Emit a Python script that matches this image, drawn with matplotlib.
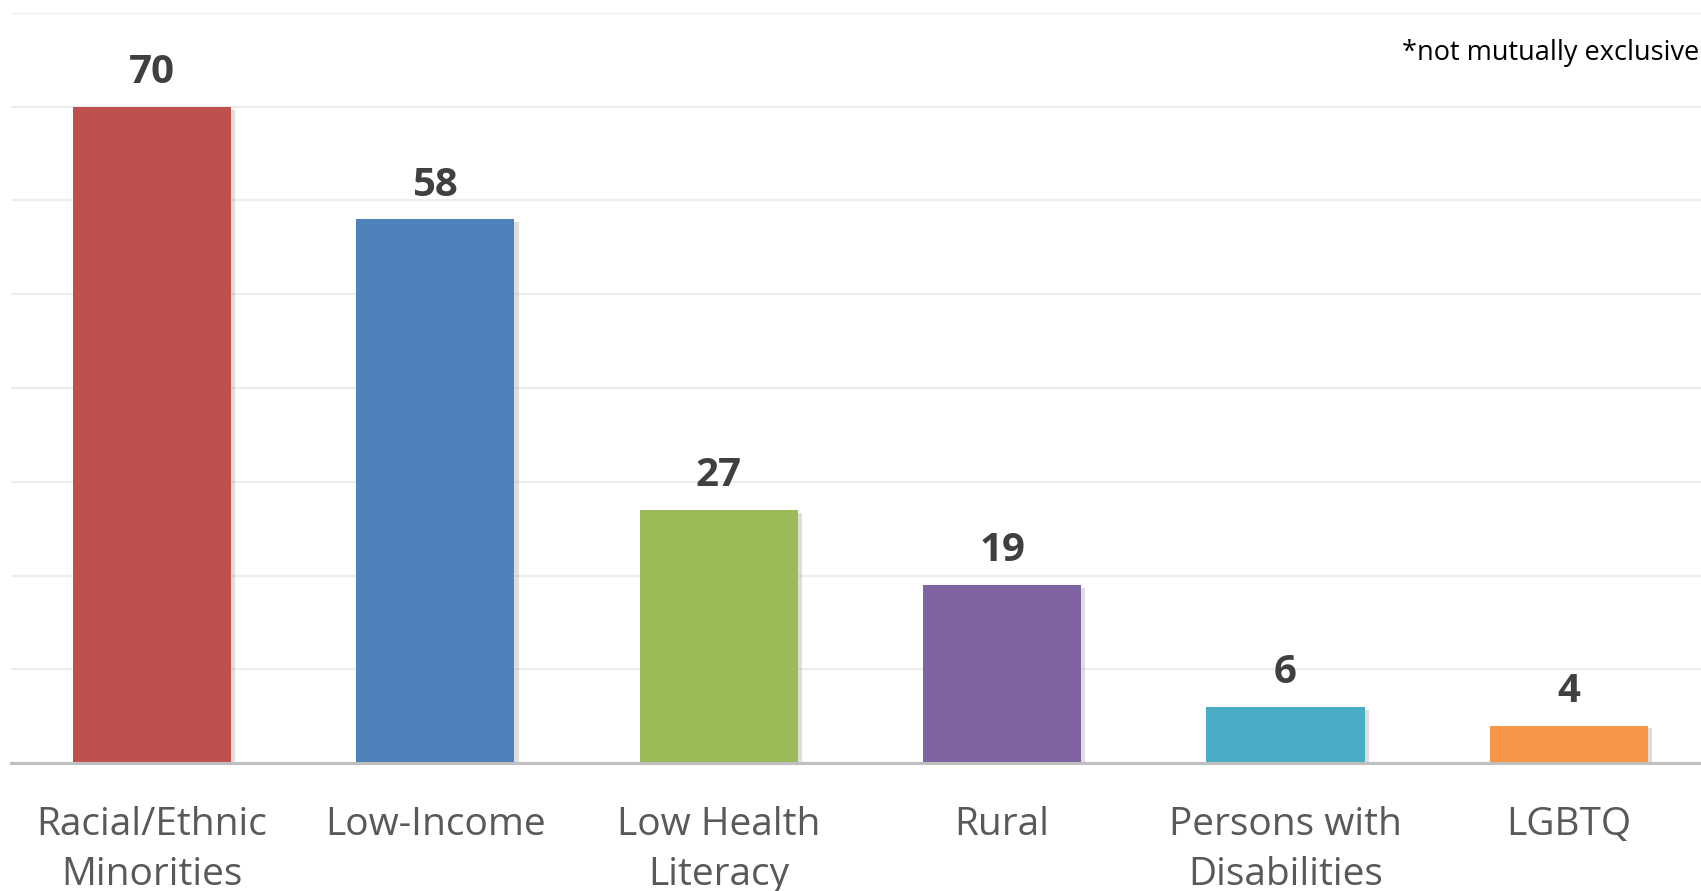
import matplotlib.pyplot as plt
import matplotlib.patheffects as pe

# data
categories = ['Racial/Ethnic\nMinorities', 'Low-Income', 'Low Health\nLiteracy',
              'Rural', 'Persons with\nDisabilities', 'LGBTQ']
counts = [70, 58, 27, 19, 6, 4]
colors = ['#C0504D', '#4F81BD', '#9BBB59', '#8064A2', '#4BACC6', '#F79646']
note = '*not mutually exclusive'

plt.rcParams['font.family'] = ['Open Sans', 'DejaVu Sans']

fig = plt.figure(figsize=(17.01, 8.91), dpi=100)
ax = fig.add_axes([11 / 1701, 1 - 763 / 891, 1690 / 1701, 750 / 891])

x = list(range(len(categories)))
bars = ax.bar(x, counts, width=0.558, color=colors, zorder=3)
for b in bars:
    b.set_path_effects([pe.SimplePatchShadow(offset=(3, -2), shadow_rgbFace='#8a8a8a', alpha=0.28),
                        pe.Normal()])

for xi, v in zip(x, counts):
    ax.annotate(str(v), (xi, v), xytext=(0, 17), textcoords='offset points',
                ha='center', va='baseline', fontsize=29, fontweight='bold', color='#404040')

ax.set_xlim(-0.4975, 5.466)
ax.set_ylim(0, 80)
ax.set_yticks(range(0, 81, 10))
ax.set_yticklabels([])
ax.tick_params(axis='y', length=0)
ax.yaxis.grid(True, color='#EDEDED', linewidth=1.6, zorder=0)
ax.set_axisbelow(True)

ax.set_xticks(x)
ax.set_xticklabels(categories, fontsize=28, color='#595959', linespacing=1.4)
ax.tick_params(axis='x', length=0, pad=31)

for s in ['top', 'right', 'left']:
    ax.spines[s].set_visible(False)
ax.spines['bottom'].set_color('#BFBFBF')
ax.spines['bottom'].set_linewidth(2.2)
ax.spines['bottom'].set_zorder(4)

fig.text(0.999, 1 - 60 / 891, note, ha='right', va='baseline', fontsize=19.5, color='black')

fig.savefig('out.png', dpi=100, facecolor='white')
